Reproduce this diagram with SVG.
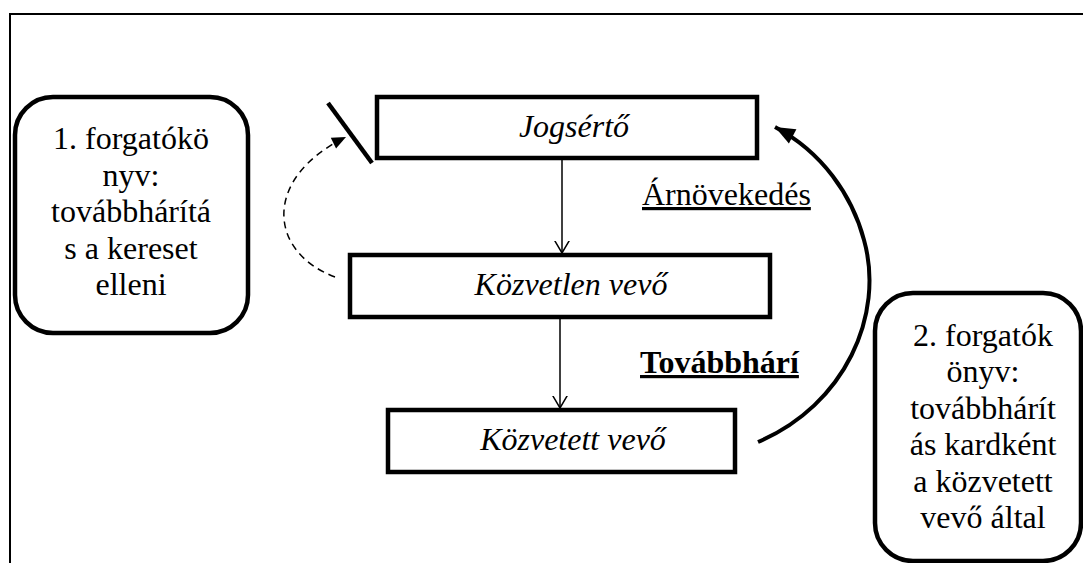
<svg xmlns="http://www.w3.org/2000/svg" width="1083" height="563" viewBox="0 0 1083 563" font-family="Liberation Serif, Times New Roman, DejaVu Serif, serif">
<defs>
<style>
.box{fill:#fff;stroke:#000;stroke-width:4.5}
.rbox{fill:#fff;stroke:#000;stroke-width:4.5}
.t{font-size:32px;fill:#000}
.i{font-style:italic}
.c{text-anchor:middle}
.thin{fill:none;stroke:#000;stroke-width:1.5}
</style>
<marker id="open" markerUnits="userSpaceOnUse" markerWidth="24" markerHeight="24" viewBox="-12 -12 24 24" refX="0" refY="0" orient="auto">
<path d="M-17,-10 L0,0 L-17,10" fill="none" stroke="#000" stroke-width="1.5"/>
</marker>
<marker id="solid" markerUnits="userSpaceOnUse" markerWidth="30" markerHeight="30" viewBox="-25 -15 30 30" refX="0" refY="0" orient="auto">
<path d="M-20,-8 L0,0 L-20,8 Z" fill="#000"/>
</marker>
<marker id="solidS" markerUnits="userSpaceOnUse" markerWidth="24" markerHeight="24" viewBox="-18 -12 24 24" refX="0" refY="0" orient="auto">
<path d="M-14,-6 L0,0 L-14,6 Z" fill="#000"/>
</marker>
</defs>
<rect width="1083" height="563" fill="#fff"/>
<path d="M10,563 V14 H1083" fill="none" stroke="#000" stroke-width="2"/>

<g id="connectors">
<line class="thin" x1="562" y1="159" x2="562" y2="253" marker-end="url(#open)"/>
<line class="thin" x1="560" y1="319" x2="560" y2="408" marker-end="url(#open)"/>
<path d="M758,442 C845,405 885,315 864,240 C852,195 822,152 775,127" fill="none" stroke="#000" stroke-width="4" marker-end="url(#solid)"/>
<path d="M335,277 C268,252 262,178 346,137" fill="none" stroke="#000" stroke-width="1.5" stroke-dasharray="7,5" marker-end="url(#solidS)"/>
<line x1="328" y1="103" x2="372" y2="163" stroke="#000" stroke-width="4.5"/>
</g>

<g id="node-left">
<rect class="rbox" x="15" y="97" width="233" height="236" rx="38"/>
<text class="t c" x="131" y="149">1. forgatókö</text>
<text class="t c" x="131" y="186">nyv:</text>
<text class="t c" x="131" y="222">továbbhárítá</text>
<text class="t c" x="131" y="259">s a kereset</text>
<text class="t c" x="131" y="295">elleni</text>
</g>

<g id="node-jogserto">
<rect class="box" x="377" y="97" width="380" height="61"/>
<text class="t i c" x="574" y="137">Jogsértő</text>
</g>

<g id="node-kozvetlen">
<rect class="box" x="350" y="255" width="420" height="62"/>
<text class="t i c" x="571" y="295">Közvetlen vevő</text>
</g>

<g id="node-kozvetett">
<rect class="box" x="388" y="410" width="347" height="62"/>
<text class="t i c" x="573" y="450">Közvetett vevő</text>
</g>

<g id="label-arnovekedes">
<text class="t" x="642" y="205" text-decoration="underline">Árnövekedés</text>
</g>
<g id="label-tovabbhari">
<text class="t" x="640" y="373" font-weight="bold" text-decoration="underline">Továbbhárí</text>
</g>

<g id="node-right">
<rect class="rbox" x="875" y="293" width="206" height="268" rx="38"/>
<text class="t c" x="983" y="346">2. forgatók</text>
<text class="t c" x="983" y="382">önyv:</text>
<text class="t c" x="983" y="419">továbbhárít</text>
<text class="t c" x="983" y="455">ás kardként</text>
<text class="t c" x="983" y="492">a közvetett</text>
<text class="t c" x="983" y="528">vevő által</text>
</g>
</svg>
